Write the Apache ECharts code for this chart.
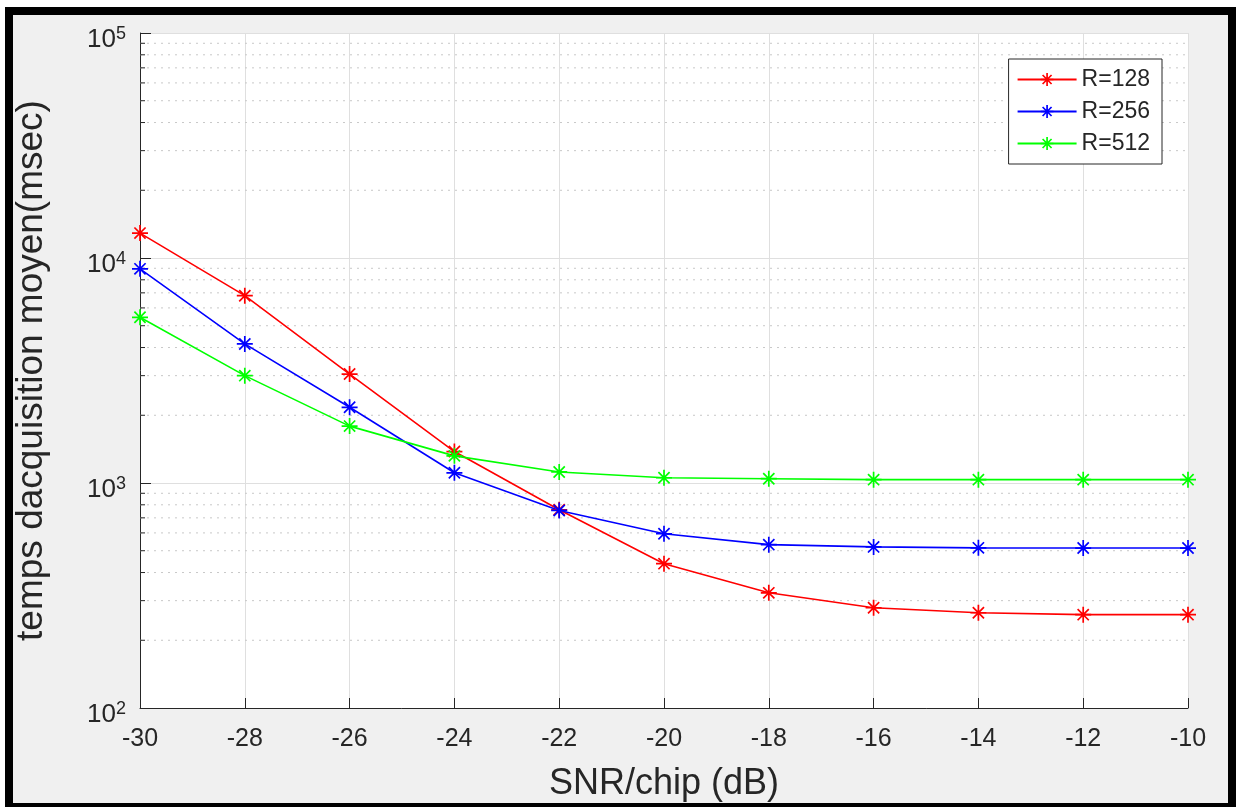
<!DOCTYPE html>
<html>
<head>
<meta charset="utf-8">
<script src="https://cdn.jsdelivr.net/npm/echarts@6/dist/echarts.min.js"></script>
<style>
  html, body { margin: 0; padding: 0; background: #ffffff; width: 1236px; height: 807px; overflow: hidden; }
  #frame { position: absolute; left: 5px; top: 7px; width: 1231px; height: 800px; box-sizing: border-box;
           border-top: 8px solid #000; border-left: 8px solid #000; border-right: 8px solid #000; border-bottom: 4px solid #000;
           background: #f0f0f0; }
  #chart { position: absolute; left: 0; top: 0; width: 1236px; height: 807px; }
</style>
</head>
<body>
<div id="frame"></div>
<div id="chart"></div>
<script>
// ---- data ----
const snr = [-30, -28, -26, -24, -22, -20, -18, -16, -14, -12, -10];
const r128 = [12900, 6800, 3050, 1380, 760, 438, 325, 279, 265, 260, 260];
const r256 = [8950, 4150, 2170, 1110, 755, 595, 532, 520, 515, 514, 514];
const r512 = [5450, 3000, 1790, 1320, 1120, 1055, 1045, 1035, 1035, 1035, 1035];
const seriesNames = ['R=128', 'R=256', 'R=512'];
const xTicks = { min: -30, max: -10, step: 2 };
const yRange = { min: 100, max: 100000 };
const minorVals = [200,300,400,500,600,700,800,900,2000,3000,4000,5000,6000,7000,8000,9000,20000,30000,40000,50000,60000,70000,80000,90000];

const FONT = "'Liberation Sans', Arial, sans-serif";
const TXT = '#262626';
const asterisk = 'path://M10,0L10,20M0,10L20,10M3,3L17,17M3,17L17,3';

function lineSeries(name, vals, color) {
  return {
    name: name, type: 'line', z: 5,
    data: snr.map((x, i) => [x, vals[i]]),
    symbol: asterisk, symbolSize: 16,
    lineStyle: { color: color, width: 1.6 },
    itemStyle: { color: color, borderColor: color, borderWidth: 1.7 },
    emphasis: { disabled: true }
  };
}

const chart = echarts.init(document.getElementById('chart'), null, { renderer: 'canvas' });
chart.setOption({
  animation: false,
  backgroundColor: 'transparent',
  textStyle: { fontFamily: FONT },
  grid: { left: 140, top: 33, right: 48, bottom: 99, show: true, backgroundColor: '#ffffff', borderWidth: 0, containLabel: false },
  legend: {
    data: seriesNames, orient: 'vertical', right: 74, top: 59,
    padding: [9, 12, 9, 8], itemGap: 9, itemWidth: 59, itemHeight: 16,
    backgroundColor: '#ffffff', borderColor: TXT, borderWidth: 1,
    textStyle: { fontSize: 23, color: TXT, fontFamily: FONT },
    itemStyle: { borderWidth: 1.7 }
  },
  xAxis: {
    type: 'value', min: xTicks.min, max: xTicks.max, interval: xTicks.step,
    name: 'SNR/chip (dB)', nameLocation: 'middle', nameGap: 58,
    nameTextStyle: { fontSize: 36, color: TXT, fontFamily: FONT },
    axisLine: { show: true, onZero: false, lineStyle: { color: TXT, width: 1 } },
    axisTick: { show: true, inside: true, length: 10, lineStyle: { color: TXT } },
    axisLabel: { fontSize: 25, color: TXT, margin: 19, fontFamily: FONT },
    splitLine: { show: true, lineStyle: { color: '#dfdfdf', width: 1 } }
  },
  yAxis: {
    type: 'log', logBase: 10, min: yRange.min, max: yRange.max,
    name: 'temps dacquisition moyen(msec)', nameLocation: 'middle', nameGap: 90,
    nameTextStyle: { fontSize: 37, color: TXT, fontFamily: FONT },
    axisLine: { show: true, lineStyle: { color: TXT, width: 1 } },
    axisTick: { show: true, inside: true, length: 11, lineStyle: { color: TXT } },
    axisLabel: {
      margin: 14, color: TXT, fontFamily: FONT, padding: [12, 0, 0, 0],
      formatter: function (v) { return '{b|10}{s|' + Math.round(Math.log10(v)) + '}'; },
      rich: {
        b: { fontSize: 26, lineHeight: 28, verticalAlign: 'bottom', color: TXT, fontFamily: FONT },
        s: { fontSize: 18, lineHeight: 18, verticalAlign: 'top', color: TXT, fontFamily: FONT }
      }
    },
    splitLine: { show: true, lineStyle: { color: '#dfdfdf', width: 1 } },
    minorTick: { show: false }, minorSplitLine: { show: false }
  },
  series: [
    {
      type: 'custom', name: 'minor', z: 1, silent: true,
      data: minorVals.map(v => [xTicks.min, v]),
      renderItem: function (params, api) {
        const v = api.value(1);
        const p0 = api.coord([xTicks.min, v]);
        const p1 = api.coord([xTicks.max, v]);
        return {
          type: 'group',
          children: [
            { type: 'line', shape: { x1: p0[0], y1: p0[1], x2: p1[0], y2: p1[1] },
              style: { stroke: '#c8c8c8', lineWidth: 1, lineDash: [2, 5] } },
            { type: 'line', shape: { x1: p0[0], y1: p0[1], x2: p0[0] + 5, y2: p0[1] },
              style: { stroke: TXT, lineWidth: 1 } }
          ]
        };
      }
    },
    lineSeries(seriesNames[0], r128, '#ff0000'),
    lineSeries(seriesNames[1], r256, '#0000ff'),
    lineSeries(seriesNames[2], r512, '#00ff00')
  ]
});
</script>
</body>
</html>
